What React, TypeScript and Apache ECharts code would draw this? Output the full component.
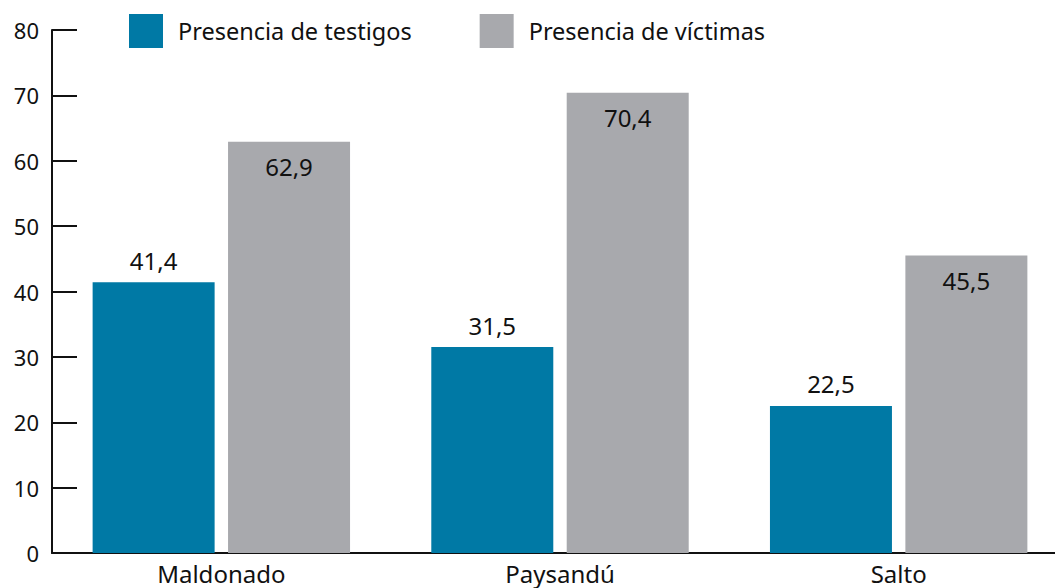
import React, { useEffect, useRef } from "react";
import * as echarts from "echarts";

const categories = ["Maldonado", "Paysandú", "Salto"];
const testigos = [41.4, 31.5, 22.5];
const victimas = [62.9, 70.4, 45.5];
const seriesNames = ["Presencia de testigos", "Presencia de víctimas"];

const FONT = "'Noto Sans', sans-serif";
const fmt = (p: any) => String(p.value).replace(".", ",");

export default function App() {
  const ref = useRef<HTMLDivElement>(null);
  useEffect(() => {
    const chart = echarts.init(ref.current!, null, { renderer: "svg" });
    chart.setOption({
      animation: false,
      textStyle: { fontFamily: FONT },
      legend: {
        left: 124,
        top: 9,
        icon: "rect",
        itemWidth: 34,
        itemHeight: 34,
        itemGap: 68,
        textStyle: {
          fontFamily: FONT,
          fontSize: 23.5,
          color: "#111",
          padding: [3, 0, 0, 10],
        },
        data: seriesNames,
      },
      grid: { left: 52, top: 30, right: 0, height: 523, containLabel: false },
      xAxis: {
        type: "category",
        data: categories,
        axisLine: { lineStyle: { color: "#111", width: 2 } },
        axisTick: { show: false },
        axisLabel: { fontFamily: FONT, fontSize: 24, color: "#111", margin: 8 },
      },
      yAxis: {
        type: "value",
        min: 0,
        max: 80,
        interval: 10,
        splitLine: { show: false },
        axisLine: { show: true, lineStyle: { color: "#111", width: 2 } },
        axisTick: { show: true, inside: true, length: 25, lineStyle: { color: "#111", width: 2 } },
        axisLabel: { fontFamily: FONT, fontSize: 22, color: "#111", margin: 13 },
      },
      series: [
        {
          name: seriesNames[0],
          type: "bar",
          data: testigos,
          barWidth: 122,
          barGap: "11%",
          barCategoryGap: "24%",
          itemStyle: { color: "#0079A5" },
          label: {
            show: true,
            position: "top",
            distance: 10,
            fontFamily: FONT,
            fontSize: 24,
            color: "#111",
            formatter: fmt,
          },
        },
        {
          name: seriesNames[1],
          type: "bar",
          data: victimas,
          barWidth: 122,
          barGap: "11%",
          itemStyle: { color: "#A8A9AD" },
          label: {
            show: true,
            position: "insideTop",
            distance: 13,
            fontFamily: FONT,
            fontSize: 24,
            color: "#111",
            formatter: fmt,
          },
        },
      ],
    });
    return () => chart.dispose();
  }, []);
  return (
    <div style={{ position: "fixed", left: 0, top: 0, width: 1055, height: 588, overflow: "hidden", background: "#fff" }}>
      <div ref={ref} style={{ position: "absolute", left: 0, top: 0, width: 1068, height: 588 }} />
    </div>
  );
}
